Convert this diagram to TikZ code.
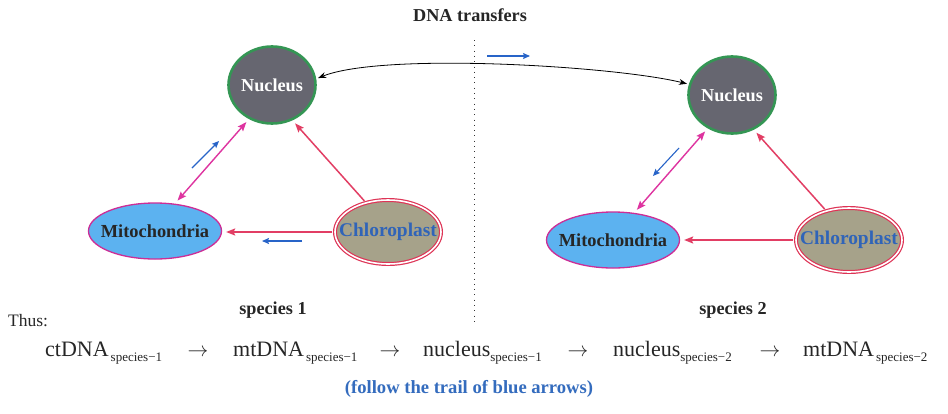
\documentclass[tikz,border=0pt]{standalone}
\usepackage{fontspec}
\setmainfont{Liberation Serif}
\usetikzlibrary{arrows.meta,shapes.geometric,calc}
\definecolor{nuccol}{RGB}{102,102,112}
\definecolor{nucedge}{RGB}{52,150,84}
\definecolor{mitocol}{RGB}{92,178,240}
\definecolor{mitoedge}{RGB}{205,45,150}
\definecolor{chlcol}{RGB}{166,162,138}
\definecolor{chledge}{RGB}{222,52,86}
\definecolor{chltext}{RGB}{48,100,184}
\definecolor{magcol}{RGB}{222,52,160}
\definecolor{redcol}{RGB}{226,62,100}
\definecolor{bluecol}{RGB}{40,100,200}
\definecolor{trailcol}{RGB}{52,108,190}
\newcommand{\fsz}[1]{\fontsize{#1}{#1}\selectfont}
\newcommand{\spsub}[1]{\hspace{2pt}\raisebox{-5pt}{\fsz{13}species−#1}}
\tikzset{
  organelle/.style = {ellipse, inner xsep=-12pt, inner ysep=0pt},
  nucleus/.style  = {organelle, draw=nucedge, line width=2.6pt, fill=nuccol,
                     minimum width=87pt, minimum height=77pt,
                     text=white, font=\fsz{18.2}\bfseries},
  mito/.style     = {organelle, draw=mitoedge, line width=1.3pt, fill=mitocol,
                     minimum width=133pt, minimum height=56pt,
                     text=black!85, font=\fsz{18.4}\bfseries},
  chloro/.style   = {organelle, draw=chledge, double=white, double distance=1.6pt,
                     line width=1.2pt, fill=chlcol, minimum width=106pt,
                     minimum height=64pt, text=chltext, font=\fsz{19.4}\bfseries},
  magarrow/.style = {{Stealth[length=9pt, width=7pt, inset=1.5pt]}-{Stealth[length=9pt, width=7pt, inset=1.5pt]},
                     draw=magcol, line width=1.4pt, shorten <=4pt, shorten >=4pt},
  redarrow/.style = {-{Stealth[length=9pt, width=7pt, inset=1.5pt]},
                     draw=redcol, line width=1.5pt, shorten <=2pt, shorten >=4pt},
  bluearrow/.style = {-{Stealth[length=7pt, width=6pt, inset=1.2pt]},
                     draw=bluecol, line width=1.1pt},
  transfer/.style = {{Stealth[length=8pt, width=6pt]}-{Stealth[length=8pt, width=6pt]},
                     draw=black, line width=0.8pt, shorten <=2pt, shorten >=2pt},
  divider/.style  = {draw=black!80, line width=0.9pt, dash pattern=on 0.9pt off 4.4pt},
  heading/.style  = {inner sep=0pt, font=\fsz{18.2}\bfseries, text=black!85},
  term/.style     = {inner sep=0pt, anchor=base west, font=\fsz{22}, text=black!85},
  trail/.style    = {inner sep=0pt, font=\fsz{18.6}\bfseries, text=trailcol},
}
\begin{document}
\begin{tikzpicture}[x=1pt, y=-1pt]
  \fill[white] (0,0) rectangle (948,413);
  \useasboundingbox (0,0) rectangle (948,413);

  \node[nucleus] (nuc1) at (272,85) {Nucleus};
  \node[mito] (mito1) at (155,231) {Mitochondria};
  \node[chloro] (chl1) at (388,232) {Chloroplast};

  \node[nucleus] (nuc2) at (732,95) {Nucleus};
  \node[mito] (mito2) at (613,240) {Mitochondria};
  \node[chloro] (chl2) at (849,240) {Chloroplast};

  \draw[magarrow] (mito1.54) -- (nuc1.236);
  \draw[magarrow] (mito2.52) -- (nuc2.234);
  \draw[redarrow] (chl1.127) -- (nuc1.300);
  \draw[redarrow] (chl2.128) -- (nuc2.302);
  \draw[redarrow] (chl1.west) -- (chl1.west -| mito1.east);
  \draw[redarrow] (chl2.west) -- (chl2.west -| mito2.east);

  \draw[transfer] (nuc1.8) .. controls (383,52) and (615,66) .. (nuc2.166);

  \coordinate (b1s) at (192,168);  \coordinate (b1e) at (219,141);
  \coordinate (b2s) at (302,241);  \coordinate (b2e) at (262,241);
  \coordinate (b3s) at (487,56);   \coordinate (b3e) at (530,56);
  \coordinate (b4s) at (679,148);  \coordinate (b4e) at (653,176);
  \foreach \a/\b in {b1s/b1e, b2s/b2e, b3s/b3e, b4s/b4e} \draw[bluearrow] (\a) -- (\b);

  \coordinate (divtop) at (474,40);
  \coordinate (divbot) at (474,322);
  \draw[divider] (divtop) -- (divbot);

  \node[heading] (title) at (470,15) {DNA transfers};
  \node[heading, anchor=base] (sp1) at (273,314) {species 1};
  \node[heading, anchor=base] (sp2) at (733,314) {species 2};
  \node[term, font=\fsz{17.5}] (thus) at (8,326) {Thus:};

  \node[term] (t1) at (45,356) {ctDNA\spsub{1}};
  \node[term] (t2) at (233,356) {mtDNA\spsub{1}};
  \node[term] (t3) at (423,356) {nucleus\raisebox{-5pt}{\fsz{13}species−1}};
  \node[term] (t4) at (613,356) {nucleus\raisebox{-5pt}{\fsz{13}species−2}};
  \node[term] (t5) at (803,356) {mtDNA\spsub{2}};
  \foreach \x/\n in {198/a1, 390/a2, 578/a3, 770/a4}
    \node[term, anchor=base] (\n) at (\x,356) {$\rightarrow$};

  \node[trail] (follow) at (469,389) {(follow the trail of blue arrows)};
\end{tikzpicture}
\end{document}
